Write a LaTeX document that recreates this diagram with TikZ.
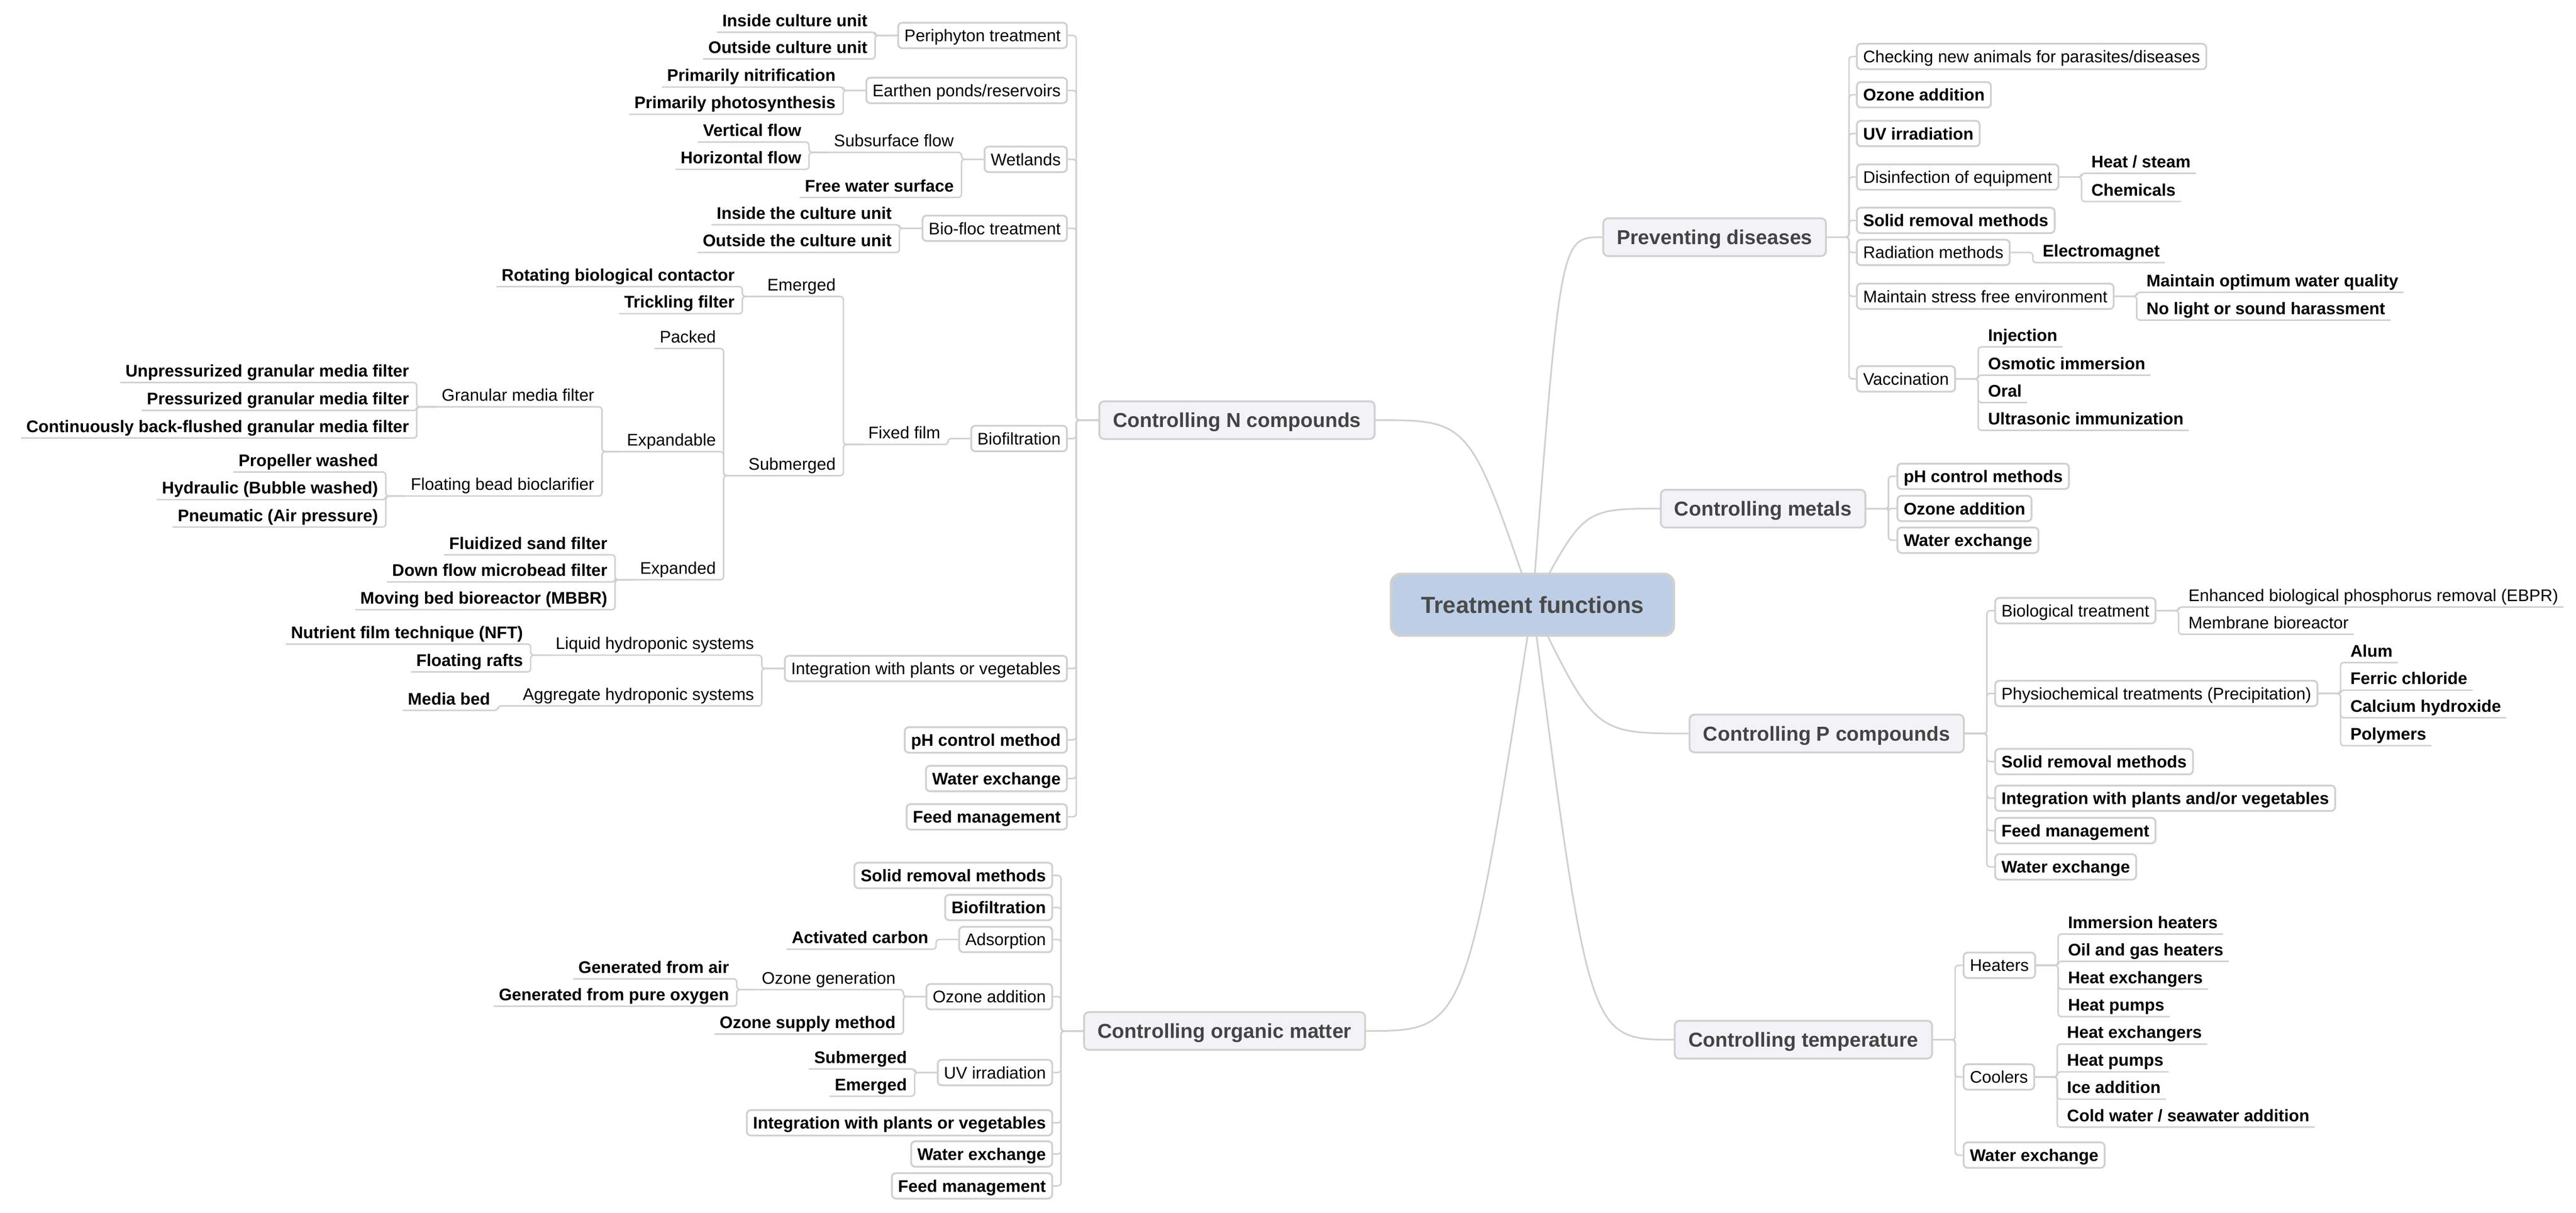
\documentclass[tikz,border=0pt]{standalone}
\usepackage{fontspec}
\setmainfont{Liberation Sans}
\usepackage{tikz}
\usetikzlibrary{calc,backgrounds}
\definecolor{linegray}{RGB}{208,208,208}
\definecolor{rootblue}{RGB}{189,207,230}
\definecolor{roottext}{RGB}{74,74,74}
\definecolor{mainfill}{RGB}{243,243,247}
\definecolor{maintext}{RGB}{68,68,68}
\newcommand{\mapfont}{\fontsize{10.25}{12}\selectfont}

\begin{document}
\begin{tikzpicture}[x=1pt,y=-1pt,
  root/.style={draw=linegray,line width=1.6pt,fill=rootblue,rounded corners=6pt,minimum width=172pt,minimum height=37.5pt,inner ysep=0pt,text height=10.2pt,text depth=0pt,text=roottext,font=\fontsize{14.2}{16}\selectfont\bfseries},
  mainbox/.style={draw=linegray,line width=1.1pt,fill=mainfill,rounded corners=3pt,minimum height=23pt,inner xsep=8.3pt,inner ysep=0pt,text height=8.8pt,text depth=0pt,text=maintext,font=\fontsize{12.3}{14}\selectfont\bfseries},
  subbox/.style={draw=linegray,line width=1.1pt,fill=white,rounded corners=2.5pt,minimum height=15.5pt,inner xsep=3.8pt,inner ysep=0pt,text height=7.4pt,text depth=0pt,font=\mapfont},
  endbox/.style={subbox,font=\mapfont\bfseries},
  midleaf/.style={inner xsep=3pt,inner ysep=0pt,text height=7.5pt,text depth=3.3pt,font=\mapfont},
  leaf/.style={midleaf,font=\mapfont\bfseries},
  link/.style={draw=linegray,line width=0.9pt,rounded corners=2pt},
  rootlink/.style={draw=linegray,line width=1pt}]
\useasboundingbox (0,0) rectangle (1568,738.5);

% centre and main branches
\node[root] (treat) at (932.8,368.2) {Treatment functions};
\node[mainbox,anchor=west] (ncomp) at (668.6,255.8) {Controlling N compounds};
\node[mainbox,anchor=west] (organic) at (659.3,627.7) {Controlling organic matter};
\node[mainbox,anchor=east] (disease) at (1112,144.4) {Preventing diseases};
\node[mainbox,anchor=east] (metals) at (1136,309.7) {Controlling metals};
\node[mainbox,anchor=east] (pcomp) at (1195.9,446.6) {Controlling P compounds};
\node[mainbox,anchor=east] (temp) at (1176.6,633) {Controlling temperature};

% N compounds
\node[subbox,anchor=east] (peri) at (650,21.6) {Periphyton treatment};
\node[subbox,anchor=east] (earthen) at (650,55.1) {Earthen ponds/reservoirs};
\node[subbox,anchor=east] (wetland) at (650,97) {Wetlands};
\node[subbox,anchor=east] (biofloc) at (650,139) {Bio-floc treatment};
\node[subbox,anchor=east] (biofilt) at (650,267) {Biofiltration};
\node[subbox,anchor=east] (plantsN) at (650,407) {Integration with plants or vegetables};
\node[endbox,anchor=east] (phN) at (650,450.5) {pH control method};
\node[endbox,anchor=east] (waterN) at (650,474) {Water exchange};
\node[endbox,anchor=east] (feedN) at (650,497.3) {Feed management};

\node[leaf,anchor=south east] (insideCU) at ($(peri.west)+(-15,-2)$) {Inside culture unit};
\node[leaf,anchor=south east] (outsideCU) at ($(peri.west)+(-15,14.3)$) {Outside culture unit};
\node[leaf,anchor=south east] (nitrif) at ($(earthen.west)+(-15,-2.1)$) {Primarily nitrification};
\node[leaf,anchor=south east] (photosyn) at ($(earthen.west)+(-15,14.5)$) {Primarily photosynthesis};
\node[midleaf,anchor=south east] (subsurf) at ($(wetland.west)+(-15,-4.2)$) {Subsurface flow};
\node[leaf,anchor=south east] (freewater) at ($(wetland.west)+(-15,23.2)$) {Free water surface};
\node[leaf,anchor=south east] (vertflow) at ($(subsurf.south west)+(-13.5,-6.3)$) {Vertical flow};
\node[leaf,anchor=south east] (horizflow) at ($(subsurf.south west)+(-13.5,10.3)$) {Horizontal flow};
\node[leaf,anchor=south east] (insideTCU) at ($(biofloc.west)+(-15,-2.2)$) {Inside the culture unit};
\node[leaf,anchor=south east] (outsideTCU) at ($(biofloc.west)+(-15,14.7)$) {Outside the culture unit};

\node[midleaf,anchor=south east] (fixedfilm) at ($(biofilt.west)+(-15,3.6)$) {Fixed film};
\node[midleaf,anchor=south east] (emergedN) at ($(fixedfilm.south west)+(-13.5,-90.1)$) {Emerged};
\node[midleaf,anchor=south east] (submergedN) at ($(fixedfilm.south west)+(-13.5,19)$) {Submerged};
\node[leaf,anchor=south east] (rbc) at ($(emergedN.south west)+(-13.5,-6)$) {Rotating biological contactor};
\node[leaf,anchor=south east] (trickling) at ($(emergedN.south west)+(-13.5,10.5)$) {Trickling filter};
\node[midleaf,anchor=south east] (packed) at ($(submergedN.south west)+(-13.5,-77.4)$) {Packed};
\node[midleaf,anchor=south east] (expandable) at ($(submergedN.south west)+(-13.5,-14.6)$) {Expandable};
\node[midleaf,anchor=south east] (expanded) at ($(submergedN.south west)+(-13.5,63.4)$) {Expanded};
\node[midleaf,anchor=south east] (granular) at ($(expandable.south west)+(-13.5,-27.3)$) {Granular media filter};
\node[midleaf,anchor=south east] (floatbead) at ($(expandable.south west)+(-13.5,27)$) {Floating bead bioclarifier};
\node[leaf,anchor=south east] (unpress) at ($(granular.south west)+(-13.5,-14.8)$) {Unpressurized granular media filter};
\node[leaf,anchor=south east] (press) at ($(granular.south west)+(-13.5,2.2)$) {Pressurized granular media filter};
\node[leaf,anchor=south east] (contback) at ($(granular.south west)+(-13.5,19)$) {Continuously back-flushed granular media filter};
\node[leaf,anchor=south east] (propeller) at ($(floatbead.south west)+(-13.5,-14.6)$) {Propeller washed};
\node[leaf,anchor=south east] (hydraulic) at ($(floatbead.south west)+(-13.5,2.2)$) {Hydraulic (Bubble washed)};
\node[leaf,anchor=south east] (pneumatic) at ($(floatbead.south west)+(-13.5,18.9)$) {Pneumatic (Air pressure)};
\node[leaf,anchor=south east] (fluidsand) at ($(expanded.south west)+(-13.5,-15.2)$) {Fluidized sand filter};
\node[leaf,anchor=south east] (downflow) at ($(expanded.south west)+(-13.5,1.3)$) {Down flow microbead filter};
\node[leaf,anchor=south east] (mbbr) at ($(expanded.south west)+(-13.5,18.2)$) {Moving bed bioreactor (MBBR)};

\node[midleaf,anchor=south east] (liquidhp) at ($(plantsN.west)+(-15,-8.1)$) {Liquid hydroponic systems};
\node[midleaf,anchor=south east] (aggregatehp) at ($(plantsN.west)+(-15,22.8)$) {Aggregate hydroponic systems};
\node[leaf,anchor=south east] (nft) at ($(liquidhp.south west)+(-13.5,-6.8)$) {Nutrient film technique (NFT)};
\node[leaf,anchor=south east] (rafts) at ($(liquidhp.south west)+(-13.5,10.2)$) {Floating rafts};
\node[leaf,anchor=south east] (mediabed) at ($(aggregatehp.south west)+(-13.5,2.7)$) {Media bed};

% organic matter
\node[endbox,anchor=east] (solidO) at (641,533) {Solid removal methods};
\node[endbox,anchor=east] (biofiltO) at (641,552.5) {Biofiltration};
\node[subbox,anchor=east] (adsorb) at (641,572) {Adsorption};
\node[subbox,anchor=east] (ozoneO) at (641,606.8) {Ozone addition};
\node[subbox,anchor=east] (uvO) at (641,653) {UV irradiation};
\node[endbox,anchor=east] (plantsO) at (641,683.6) {Integration with plants or vegetables};
\node[endbox,anchor=east] (waterO) at (641,702.6) {Water exchange};
\node[endbox,anchor=east] (feedO) at (641,722) {Feed management};

\node[leaf,anchor=south east] (actcarbon) at ($(adsorb.west)+(-15,5.9)$) {Activated carbon};
\node[midleaf,anchor=south east] (ozgen) at ($(ozoneO.west)+(-15,-4.3)$) {Ozone generation};
\node[leaf,anchor=south east] (ozsupply) at ($(ozoneO.west)+(-15,22.8)$) {Ozone supply method};
\node[leaf,anchor=south east] (genair) at ($(ozgen.south west)+(-13.5,-6.5)$) {Generated from air};
\node[leaf,anchor=south east] (genoxy) at ($(ozgen.south west)+(-13.5,10.1)$) {Generated from pure oxygen};
\node[leaf,anchor=south east] (submergedO) at ($(uvO.west)+(-15,-2.2)$) {Submerged};
\node[leaf,anchor=south east] (emergedO) at ($(uvO.west)+(-15,14.4)$) {Emerged};

% preventing diseases
\node[subbox,anchor=west] (checking) at (1129.7,34.4) {Checking new animals for parasites/diseases};
\node[endbox,anchor=west] (ozoneD) at (1129.7,57.7) {Ozone addition};
\node[endbox,anchor=west] (uvD) at (1129.7,81.3) {UV irradiation};
\node[subbox,anchor=west] (disinfect) at (1129.7,107.8) {Disinfection of equipment};
\node[endbox,anchor=west] (solidD) at (1129.7,134.2) {Solid removal methods};
\node[subbox,anchor=west] (radiation) at (1129.7,153.7) {Radiation methods};
\node[subbox,anchor=west] (stressfree) at (1129.7,180.4) {Maintain stress free environment};
\node[subbox,anchor=west] (vaccine) at (1129.7,230.7) {Vaccination};

\node[leaf,anchor=south west] (heatsteam) at ($(disinfect.east)+(16.3,-2.3)$) {Heat / steam};
\node[leaf,anchor=south west] (chemicals) at ($(disinfect.east)+(16.3,14.9)$) {Chemicals};
\node[leaf,anchor=south west] (electromag) at ($(radiation.east)+(16.3,6.2)$) {Electromagnet};
\node[leaf,anchor=south west] (optwater) at ($(stressfree.east)+(16.3,-2.4)$) {Maintain optimum water quality};
\node[leaf,anchor=south west] (nolight) at ($(stressfree.east)+(16.3,14.5)$) {No light or sound harassment};
\node[leaf,anchor=south west] (injection) at ($(vaccine.east)+(16.3,-19.5)$) {Injection};
\node[leaf,anchor=south west] (osmotic) at ($(vaccine.east)+(16.3,-2.3)$) {Osmotic immersion};
\node[leaf,anchor=south west] (oral) at ($(vaccine.east)+(16.3,14.4)$) {Oral};
\node[leaf,anchor=south west] (ultrasonic) at ($(vaccine.east)+(16.3,31.3)$) {Ultrasonic immunization};

% metals
\node[endbox,anchor=west] (phM) at (1154.4,290) {pH control methods};
\node[endbox,anchor=west] (ozoneM) at (1154.4,309.6) {Ozone addition};
\node[endbox,anchor=west] (waterM) at (1154.4,328.9) {Water exchange};

% P compounds
\node[subbox,anchor=west] (biotreat) at (1213.9,371.8) {Biological treatment};
\node[subbox,anchor=west] (physio) at (1213.9,422.2) {Physiochemical treatments (Precipitation)};
\node[endbox,anchor=west] (solidP) at (1213.9,463.7) {Solid removal methods};
\node[endbox,anchor=west] (plantsP) at (1213.9,486) {Integration with plants and/or vegetables};
\node[endbox,anchor=west] (feedP) at (1213.9,505.7) {Feed management};
\node[endbox,anchor=west] (waterP) at (1213.9,527.8) {Water exchange};

\node[midleaf,anchor=south west] (ebpr) at ($(biotreat.east)+(16.3,-2.2)$) {Enhanced biological phosphorus removal (EBPR)};
\node[midleaf,anchor=south west] (membrane) at ($(biotreat.east)+(16.3,14.4)$) {Membrane bioreactor};
\node[leaf,anchor=south west] (alum) at ($(physio.east)+(16.3,-18.8)$) {Alum};
\node[leaf,anchor=south west] (ferric) at ($(physio.east)+(16.3,-2)$) {Ferric chloride};
\node[leaf,anchor=south west] (calcium) at ($(physio.east)+(16.3,14.8)$) {Calcium hydroxide};
\node[leaf,anchor=south west] (polymers) at ($(physio.east)+(16.3,31.8)$) {Polymers};

% temperature
\node[subbox,anchor=west] (heaters) at (1194.7,587.7) {Heaters};
\node[subbox,anchor=west] (coolers) at (1194.7,655.7) {Coolers};
\node[endbox,anchor=west] (waterT) at (1194.7,703.3) {Water exchange};

\node[leaf,anchor=south west] (immersion) at ($(heaters.east)+(16.3,-19)$) {Immersion heaters};
\node[leaf,anchor=south west] (oilgas) at ($(heaters.east)+(16.3,-2.4)$) {Oil and gas heaters};
\node[leaf,anchor=south west] (heatexH) at ($(heaters.east)+(16.3,14.5)$) {Heat exchangers};
\node[leaf,anchor=south west] (heatpumpH) at ($(heaters.east)+(16.3,31.3)$) {Heat pumps};
\node[leaf,anchor=south west] (heatexC) at ($(coolers.east)+(16.3,-20)$) {Heat exchangers};
\node[leaf,anchor=south west] (heatpumpC) at ($(coolers.east)+(16.3,-3.1)$) {Heat pumps};
\node[leaf,anchor=south west] (ice) at ($(coolers.east)+(16.3,13.5)$) {Ice addition};
\node[leaf,anchor=south west] (coldwater) at ($(coolers.east)+(16.3,30.5)$) {Cold water / seawater addition};

% connectors, left side
\draw[link] (ncomp.west) -- ++(-13.5,0) |- (peri.east);
\draw[link] (ncomp.west) -- ++(-13.5,0) |- (earthen.east);
\draw[link] (ncomp.west) -- ++(-13.5,0) |- (wetland.east);
\draw[link] (ncomp.west) -- ++(-13.5,0) |- (biofloc.east);
\draw[link] (ncomp.west) -- ++(-13.5,0) |- (biofilt.east);
\draw[link] (ncomp.west) -- ++(-13.5,0) |- (plantsN.east);
\draw[link] (ncomp.west) -- ++(-13.5,0) |- (phN.east);
\draw[link] (ncomp.west) -- ++(-13.5,0) |- (waterN.east);
\draw[link] (ncomp.west) -- ++(-13.5,0) |- (feedN.east);

\draw[link] (peri.west) -- ++(-13.5,0) |- (insideCU.south west);
\draw[link] (peri.west) -- ++(-13.5,0) |- (outsideCU.south west);
\draw[link] (earthen.west) -- ++(-13.5,0) |- (nitrif.south west);
\draw[link] (earthen.west) -- ++(-13.5,0) |- (photosyn.south west);
\draw[link] (wetland.west) -- ++(-13.5,0) |- (subsurf.south west);
\draw[link] (wetland.west) -- ++(-13.5,0) |- (freewater.south west);
\draw[link] (subsurf.south west) -- ++(-12,0) |- (vertflow.south west);
\draw[link] (subsurf.south west) -- ++(-12,0) |- (horizflow.south west);
\draw[link] (biofloc.west) -- ++(-13.5,0) |- (insideTCU.south west);
\draw[link] (biofloc.west) -- ++(-13.5,0) |- (outsideTCU.south west);

\draw[link] (biofilt.west) -- ++(-13.5,0) |- (fixedfilm.south west);
\draw[link] (fixedfilm.south west) -- ++(-12,0) |- (emergedN.south west);
\draw[link] (fixedfilm.south west) -- ++(-12,0) |- (submergedN.south west);
\draw[link] (emergedN.south west) -- ++(-12,0) |- (rbc.south west);
\draw[link] (emergedN.south west) -- ++(-12,0) |- (trickling.south west);
\draw[link] (submergedN.south west) -- ++(-12,0) |- (packed.south west);
\draw[link] (submergedN.south west) -- ++(-12,0) |- (expandable.south west);
\draw[link] (submergedN.south west) -- ++(-12,0) |- (expanded.south west);
\draw[link] (expandable.south west) -- ++(-12,0) |- (granular.south west);
\draw[link] (expandable.south west) -- ++(-12,0) |- (floatbead.south west);
\draw[link] (granular.south west) -- ++(-12,0) |- (unpress.south west);
\draw[link] (granular.south west) -- ++(-12,0) |- (press.south west);
\draw[link] (granular.south west) -- ++(-12,0) |- (contback.south west);
\draw[link] (floatbead.south west) -- ++(-12,0) |- (propeller.south west);
\draw[link] (floatbead.south west) -- ++(-12,0) |- (hydraulic.south west);
\draw[link] (floatbead.south west) -- ++(-12,0) |- (pneumatic.south west);
\draw[link] (expanded.south west) -- ++(-12,0) |- (fluidsand.south west);
\draw[link] (expanded.south west) -- ++(-12,0) |- (downflow.south west);
\draw[link] (expanded.south west) -- ++(-12,0) |- (mbbr.south west);

\draw[link] (plantsN.west) -- ++(-13.5,0) |- (liquidhp.south west);
\draw[link] (plantsN.west) -- ++(-13.5,0) |- (aggregatehp.south west);
\draw[link] (liquidhp.south west) -- ++(-12,0) |- (nft.south west);
\draw[link] (liquidhp.south west) -- ++(-12,0) |- (rafts.south west);
\draw[link] (aggregatehp.south west) -- ++(-12,0) |- (mediabed.south west);

\draw[link] (organic.west) -- ++(-13.5,0) |- (solidO.east);
\draw[link] (organic.west) -- ++(-13.5,0) |- (biofiltO.east);
\draw[link] (organic.west) -- ++(-13.5,0) |- (adsorb.east);
\draw[link] (organic.west) -- ++(-13.5,0) |- (ozoneO.east);
\draw[link] (organic.west) -- ++(-13.5,0) |- (uvO.east);
\draw[link] (organic.west) -- ++(-13.5,0) |- (plantsO.east);
\draw[link] (organic.west) -- ++(-13.5,0) |- (waterO.east);
\draw[link] (organic.west) -- ++(-13.5,0) |- (feedO.east);

\draw[link] (adsorb.west) -- ++(-13.5,0) |- (actcarbon.south west);
\draw[link] (ozoneO.west) -- ++(-13.5,0) |- (ozgen.south west);
\draw[link] (ozoneO.west) -- ++(-13.5,0) |- (ozsupply.south west);
\draw[link] (ozgen.south west) -- ++(-12,0) |- (genair.south west);
\draw[link] (ozgen.south west) -- ++(-12,0) |- (genoxy.south west);
\draw[link] (uvO.west) -- ++(-13.5,0) |- (submergedO.south west);
\draw[link] (uvO.west) -- ++(-13.5,0) |- (emergedO.south west);

% connectors, right side
\draw[link] (disease.east) -- ++(13.5,0) |- (checking.west);
\draw[link] (disease.east) -- ++(13.5,0) |- (ozoneD.west);
\draw[link] (disease.east) -- ++(13.5,0) |- (uvD.west);
\draw[link] (disease.east) -- ++(13.5,0) |- (disinfect.west);
\draw[link] (disease.east) -- ++(13.5,0) |- (solidD.west);
\draw[link] (disease.east) -- ++(13.5,0) |- (radiation.west);
\draw[link] (disease.east) -- ++(13.5,0) |- (stressfree.west);
\draw[link] (disease.east) -- ++(13.5,0) |- (vaccine.west);

\draw[link] (disinfect.east) -- ++(13.5,0) |- (heatsteam.south east);
\draw[link] (disinfect.east) -- ++(13.5,0) |- (chemicals.south east);
\draw[link] (radiation.east) -- ++(13.5,0) |- (electromag.south east);
\draw[link] (stressfree.east) -- ++(13.5,0) |- (optwater.south east);
\draw[link] (stressfree.east) -- ++(13.5,0) |- (nolight.south east);
\draw[link] (vaccine.east) -- ++(13.5,0) |- (injection.south east);
\draw[link] (vaccine.east) -- ++(13.5,0) |- (osmotic.south east);
\draw[link] (vaccine.east) -- ++(13.5,0) |- (oral.south east);
\draw[link] (vaccine.east) -- ++(13.5,0) |- (ultrasonic.south east);

\draw[link] (metals.east) -- ++(13.5,0) |- (phM.west);
\draw[link] (metals.east) -- ++(13.5,0) |- (ozoneM.west);
\draw[link] (metals.east) -- ++(13.5,0) |- (waterM.west);

\draw[link] (pcomp.east) -- ++(13.5,0) |- (biotreat.west);
\draw[link] (pcomp.east) -- ++(13.5,0) |- (physio.west);
\draw[link] (pcomp.east) -- ++(13.5,0) |- (solidP.west);
\draw[link] (pcomp.east) -- ++(13.5,0) |- (plantsP.west);
\draw[link] (pcomp.east) -- ++(13.5,0) |- (feedP.west);
\draw[link] (pcomp.east) -- ++(13.5,0) |- (waterP.west);
\draw[link] (biotreat.east) -- ++(13.5,0) |- (ebpr.south east);
\draw[link] (biotreat.east) -- ++(13.5,0) |- (membrane.south east);
\draw[link] (physio.east) -- ++(13.5,0) |- (alum.south east);
\draw[link] (physio.east) -- ++(13.5,0) |- (ferric.south east);
\draw[link] (physio.east) -- ++(13.5,0) |- (calcium.south east);
\draw[link] (physio.east) -- ++(13.5,0) |- (polymers.south east);

\draw[link] (temp.east) -- ++(13.5,0) |- (heaters.west);
\draw[link] (temp.east) -- ++(13.5,0) |- (coolers.west);
\draw[link] (temp.east) -- ++(13.5,0) |- (waterT.west);
\draw[link] (heaters.east) -- ++(13.5,0) |- (immersion.south east);
\draw[link] (heaters.east) -- ++(13.5,0) |- (oilgas.south east);
\draw[link] (heaters.east) -- ++(13.5,0) |- (heatexH.south east);
\draw[link] (heaters.east) -- ++(13.5,0) |- (heatpumpH.south east);
\draw[link] (coolers.east) -- ++(13.5,0) |- (heatexC.south east);
\draw[link] (coolers.east) -- ++(13.5,0) |- (heatpumpC.south east);
\draw[link] (coolers.east) -- ++(13.5,0) |- (ice.south east);
\draw[link] (coolers.east) -- ++(13.5,0) |- (coldwater.south east);

% curves from the centre, under the boxes
\begin{scope}[on background layer]
\fill[white] (0,0) rectangle (1568,738.5);
\draw[rootlink] let \p1=(treat.center), \p2=(ncomp.east) in (\p1) .. controls ({0.6*\x1+0.4*\x2},\y2) .. (\p2);
\draw[rootlink] let \p1=(treat.center), \p2=(organic.east) in (\p1) .. controls ({0.6*\x1+0.4*\x2},\y2) .. (\p2);
\draw[rootlink] let \p1=(treat.center), \p2=(disease.west) in (\p1) .. controls ({0.6*\x1+0.4*\x2},\y2) .. (\p2);
\draw[rootlink] let \p1=(treat.center), \p2=(metals.west) in (\p1) .. controls ({0.6*\x1+0.4*\x2},\y2) .. (\p2);
\draw[rootlink] let \p1=(treat.center), \p2=(pcomp.west) in (\p1) .. controls ({0.6*\x1+0.4*\x2},\y2) .. (\p2);
\draw[rootlink] let \p1=(treat.center), \p2=(temp.west) in (\p1) .. controls ({0.6*\x1+0.4*\x2},\y2) .. (\p2);
\end{scope}
\end{tikzpicture}
\end{document}
